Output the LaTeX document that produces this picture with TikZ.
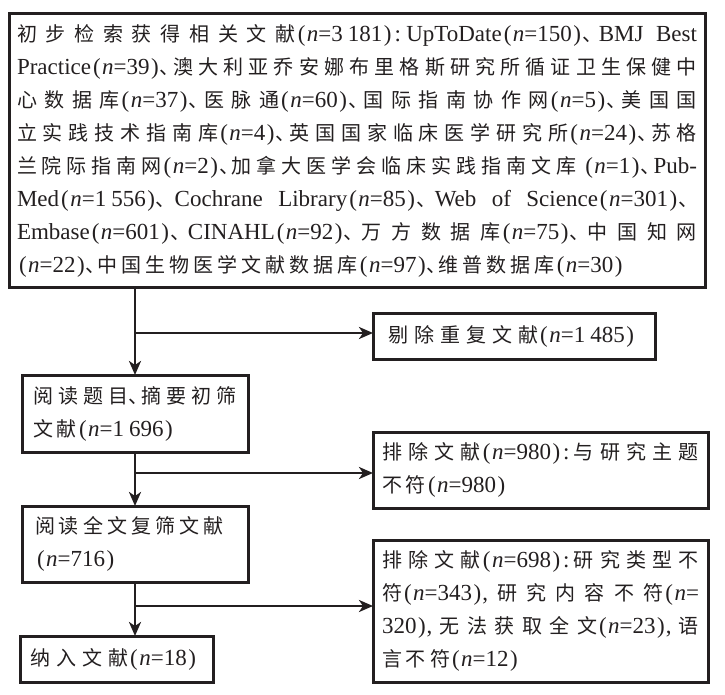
\documentclass[tikz,border=0pt]{standalone}
\usepackage{fontspec}
\setmainfont{Liberation Serif}
\newfontfamily\cjk[Scale=0.87]{Noto Sans CJK SC}
\usetikzlibrary{arrows.meta}
\definecolor{ink}{RGB}{35,31,32}
\XeTeXinterchartokenstate=1
\newXeTeXintercharclass\CJKcls
\newcount\cjkcnt
\cjkcnt="4E00
\loop
\XeTeXcharclass\cjkcnt=\CJKcls
\advance\cjkcnt by 1
\ifnum\cjkcnt<"A000
\repeat
\XeTeXinterchartoks 0 \CJKcls = {\hskip0pt plus 2pt\cjk}
\XeTeXinterchartoks 4095 \CJKcls = {\cjk}
\XeTeXinterchartoks \CJKcls 0 = {\rmfamily\hskip0pt plus 2pt}
\XeTeXinterchartoks \CJKcls 4095 = {\rmfamily}
\XeTeXinterchartoks \CJKcls \CJKcls = {\hskip4pt plus 2pt minus 1pt\relax}
\newcommand\cdun{\hbox{\cjk 、}\kern-8pt\hskip0pt plus 2pt\relax}
\newcommand\cmh{\kern2pt:\kern3pt\hskip0pt plus 1pt\relax}
\newcommand\cdh{,\kern4pt\hskip0pt plus 2pt\relax}
\newcommand\nvar{\textit{n}}
\newcommand\lpar{\kern2pt(\kern1.5pt}
\newcommand\rpar{\kern1.5pt)\kern1pt}
\newcommand\pn[1]{\lpar\nvar=#1\rpar}
\newcommand\jline[2]{\hbox to #1pt{\rmfamily#2}}
\newcommand\lline[2]{\hbox to #1pt{\rmfamily#2\hfil}}
\newcommand\tblock[1]{\vbox{\baselineskip=33pt\lineskiplimit=-50pt #1}}
\tikzset{
  fbox/.style={draw=ink, line width=3pt, inner sep=0pt, outer sep=0pt,
    anchor=north west, font=\fontsize{23}{33}\selectfont, text=ink},
  conn/.style={draw=ink, line width=2.5pt,
    -{Stealth[length=14pt,width=12pt,inset=4pt]}}
}
\begin{document}
\begin{tikzpicture}[x=1pt,y=-1pt]
\useasboundingbox (0,0) rectangle (725,695);
\node[fbox, minimum width=696pt, minimum height=273pt] (top) at (9,14) {\tblock{%
\jline{680}{初步检索获得相关文献\pn{3\kern5pt 181}\cmh UpToDate\pn{150}\cdun BMJ Best}
\jline{680}{Practice\pn{39}\cdun 澳大利亚乔安娜布里格斯研究所循证卫生保健中}
\jline{680}{心数据库\pn{37}\cdun 医脉通\pn{60}\cdun 国际指南协作网\pn{5}\cdun 美国国}
\jline{680}{立实践技术指南库\pn{4}\cdun 英国国家临床医学研究所\pn{24}\cdun 苏格}
\jline{680}{兰院际指南网\pn{2}\cdun 加拿大医学会临床实践指南文库 \pn{1}\cdun Pub-}
\jline{680}{Med\pn{1\kern5pt 556}\cdun Cochrane Library\pn{85}\cdun Web of Science\pn{301}\cdun}
\jline{680}{Embase\pn{601}\cdun CINAHL\pn{92}\cdun 万方数据库\pn{75}\cdun 中国知网}
\lline{680}{\pn{22}\cdun 中国生物医学文献数据库\pn{97}\cdun 维普数据库\pn{30}}}};
\node[fbox, minimum width=282pt, minimum height=46pt] (box1) at (373,313) {\tblock{%
\lline{252}{\jline{247}{剔除重复文献\pn{1\kern5pt 485}}}}};
\node[fbox, minimum width=226pt, minimum height=77pt] (box2) at (22,375) {\tblock{%
\jline{204}{阅读题目\cdun 摘要初筛}
\lline{204}{文献\pn{1\kern5pt 696}}}};
\node[fbox, minimum width=335pt, minimum height=76pt] (box3) at (373,432) {\tblock{%
\jline{317}{排除文献\pn{980}\cmh 与研究主题}
\lline{317}{不符\pn{980}}}};
\node[fbox, minimum width=226pt, minimum height=76pt] (box4) at (22,506) {\tblock{%
\lline{200}{阅读全文复筛文献}
\lline{200}{\pn{716}}}};
\node[fbox, minimum width=335pt, minimum height=142pt] (box5) at (373,540) {\tblock{%
\jline{317}{排除文献\pn{698}\cmh 研究类型不}
\jline{317}{符\pn{343}\cdh 研究内容不符\lpar\nvar=}
\jline{317}{320\rpar\cdh 无法获取全文\pn{23}\cdh 语}
\lline{317}{言不符\pn{12}}}};
\node[fbox, minimum width=193pt, minimum height=46pt] (box6) at (20,636) {\tblock{%
\lline{173}{\jline{167}{纳入文献\pn{18}}}}};
\coordinate (j1) at (135,333);
\coordinate (j2) at (135,473);
\coordinate (j3) at (135,606);
\draw[conn] (top.south -| box2.north) -- (box2.north);
\draw[conn] (j1) -- (j1 -| box1.west);
\draw[conn] (box2.south) -- (box4.north);
\draw[conn] (j2) -- (j2 -| box3.west);
\draw[conn] (box4.south) -- (box4.south |- box6.north);
\draw[conn] (j3) -- (j3 -| box5.west);
\end{tikzpicture}
\end{document}
